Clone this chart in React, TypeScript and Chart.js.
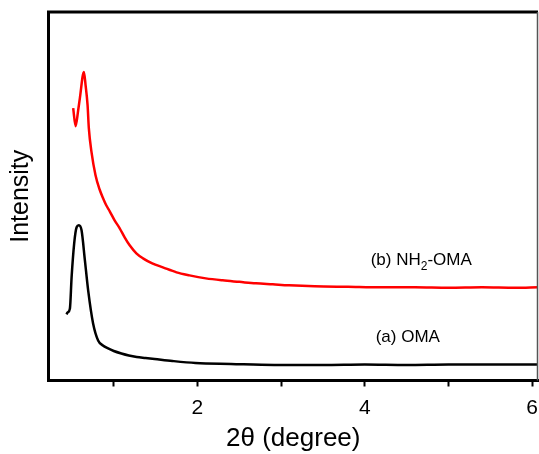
import React, { useEffect, useRef } from "react";
import { Chart, registerables } from "chart.js";

Chart.register(...registerables);

// 2θ (degree) positions and intensities (arbitrary units)
const omaX = [0.435, 0.449, 0.476, 0.496, 0.527, 0.556, 0.583, 0.615, 0.655, 0.694, 0.753, 0.813, 0.87, 0.932, 1.0, 1.091, 1.18, 1.274, 1.38, 1.488, 1.7, 1.976, 2.4, 2.917, 3.5, 4.0, 4.5, 5.0, 5.5, 6.07];
const omaY = [66, 68, 72, 103, 137, 153, 155, 150, 120, 90, 57, 40, 35, 32, 29.5, 27, 25, 23.5, 22.5, 21.5, 19.5, 17.5, 16.5, 15.5, 15.5, 16, 15.5, 16, 16, 16];

const nhX = [0.515, 0.544, 0.575, 0.595, 0.643, 0.663, 0.687, 0.702, 0.734, 0.782, 0.83, 0.872, 0.91, 0.952, 1.01, 1.071, 1.13, 1.19, 1.27, 1.349, 1.46, 1.587, 1.75, 1.905, 2.1, 2.301, 2.5, 2.699, 2.9, 3.095, 3.4, 3.8, 4.2, 4.6, 5.0, 5.4, 5.8, 6.07];
const nhY = [272, 254, 270, 282, 308, 295, 275, 252, 228, 205, 191, 182, 175, 169, 160, 152, 143, 135, 127, 122, 117, 113, 108, 105, 102, 100, 98.5, 97, 96, 95, 94, 93.5, 93, 93, 92.5, 93, 92.5, 93];

const xTicks = [1, 2, 3, 4, 5, 6];
const xMin = 0.22;
const xMax = 6.07;
const yMin = 0;
const yMax = 368;

const labelB = { x: 4.07, y: 115.5 };
const labelA = { x: 4.13, y: 38.5 };

const FONT = "'Liberation Sans', Arial, Helvetica, sans-serif";

const framePlugin = {
  id: "frame",
  afterDraw(chart: any) {
    const { ctx, chartArea } = chart;
    const { left, right, top, bottom } = chartArea;
    ctx.save();
    ctx.strokeStyle = "#000";
    ctx.lineWidth = 3;
    ctx.beginPath();
    ctx.moveTo(left - 1.5, top);
    ctx.lineTo(right, top);
    ctx.stroke();
    ctx.strokeStyle = "#555";
    ctx.lineWidth = 1.5;
    ctx.beginPath();
    ctx.moveTo(right - 0.5, top);
    ctx.lineTo(right - 0.5, bottom);
    ctx.stroke();

    const xs = chart.scales.x;
    const ys = chart.scales.y;
    ctx.fillStyle = "#000";
    ctx.textBaseline = "alphabetic";
    ctx.textAlign = "left";
    let px = xs.getPixelForValue(labelB.x);
    const pyB = ys.getPixelForValue(labelB.y);
    ctx.font = `17px ${FONT}`;
    const p1 = "(b) NH";
    ctx.fillText(p1, px, pyB);
    px += ctx.measureText(p1).width;
    ctx.font = `12px ${FONT}`;
    ctx.fillText("2", px, pyB + 5);
    px += ctx.measureText("2").width;
    ctx.font = `17px ${FONT}`;
    ctx.fillText("-OMA", px, pyB);
    ctx.fillText("(a) OMA", xs.getPixelForValue(labelA.x), ys.getPixelForValue(labelA.y));
    ctx.restore();
  },
};

export default function App() {
  const ref = useRef<HTMLCanvasElement>(null);
  useEffect(() => {
    document.body.style.margin = "0";
    const canvas = ref.current!;
    const chart = new Chart(canvas, {
      type: "line",
      data: {
        datasets: [
          {
            label: "(a) OMA",
            data: omaX.map((x, i) => ({ x, y: omaY[i] })),
            borderColor: "#000",
            borderWidth: 2.5,
            pointRadius: 0,
            cubicInterpolationMode: "monotone",
          },
          {
            label: "(b) NH2-OMA",
            data: nhX.map((x, i) => ({ x, y: nhY[i] })),
            borderColor: "#ff0000",
            borderWidth: 2.5,
            pointRadius: 0,
            cubicInterpolationMode: "monotone",
          },
        ],
      },
      options: {
        animation: false,
        responsive: false,
        devicePixelRatio: 1,
        layout: { padding: { top: 12, right: 1, left: 0, bottom: 0 } },
        plugins: { legend: { display: false }, tooltip: { enabled: false } },
        scales: {
          x: {
            type: "linear",
            min: xMin,
            max: xMax,
            afterBuildTicks: (s: any) => {
              s.ticks = xTicks.map((v) => ({ value: v }));
            },
            afterFit: (s: any) => {
              s.height = 73.5;
              s.paddingLeft = 0;
              s.paddingRight = 0;
            },
            ticks: {
              autoSkip: false,
              maxRotation: 0,
              padding: 9,
              color: "#000",
              font: { family: FONT, size: 21 },
              callback: (v: any) => (Number(v) % 2 === 0 ? String(v) : ""),
            },
            grid: {
              drawOnChartArea: false,
              drawTicks: true,
              tickLength: 6,
              tickWidth: 2,
              color: "#000",
            },
            border: { display: true, color: "#000", width: 3 },
            title: {
              display: true,
              text: "2θ (degree)",
              color: "#000",
              font: { family: FONT, size: 26 },
              padding: { top: 0, bottom: 0 },
            },
          },
          y: {
            type: "linear",
            min: yMin,
            max: yMax,
            afterFit: (s: any) => {
              s.width = 48.5;
            },
            ticks: { display: false },
            grid: { display: false, drawTicks: false },
            border: { display: true, color: "#000", width: 3 },
            title: {
              display: true,
              text: "Intensity",
              color: "#000",
              font: { family: FONT, size: 25 },
              padding: { top: 6, bottom: 0 },
            },
          },
        },
      },
      plugins: [framePlugin],
    });
    return () => chart.destroy();
  }, []);
  return (
    <div style={{ position: "absolute", left: 0, top: 0, width: 539, height: 454, background: "#fff" }}>
      <canvas ref={ref} width={539} height={454} />
    </div>
  );
}
